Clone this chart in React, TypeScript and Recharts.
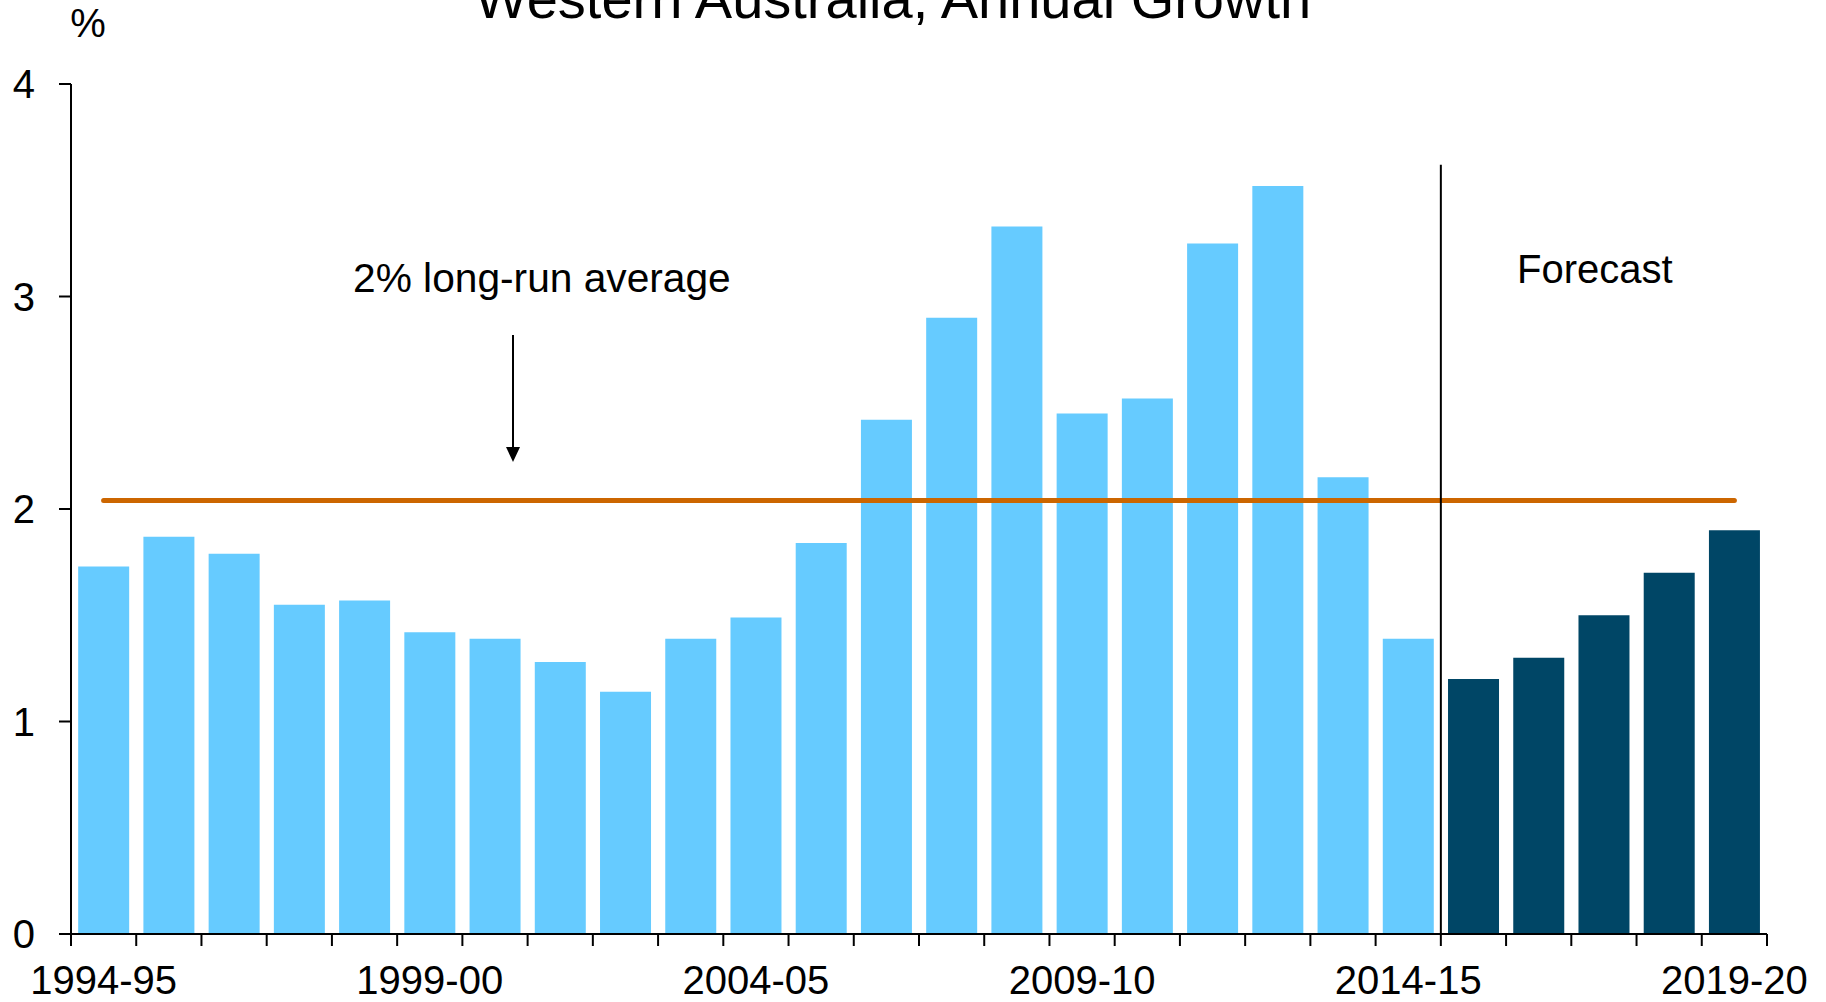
import { Bar, BarChart, Cell, ReferenceLine, XAxis, YAxis } from "recharts";

const years = [
  "1994-95", "1995-96", "1996-97", "1997-98", "1998-99", "1999-00", "2000-01",
  "2001-02", "2002-03", "2003-04", "2004-05", "2005-06", "2006-07", "2007-08",
  "2008-09", "2009-10", "2010-11", "2011-12", "2012-13", "2013-14", "2014-15",
  "2015-16", "2016-17", "2017-18", "2018-19", "2019-20",
];

// actual outcomes up to 2014-15, forecasts after that
const actualGrowth = [
  1.73, 1.87, 1.79, 1.55, 1.57, 1.42, 1.39, 1.28, 1.14, 1.39, 1.49,
  1.84, 2.42, 2.9, 3.33, 2.45, 2.52, 3.25, 3.52, 2.15, 1.39,
];
const forecastGrowth = [1.2, 1.3, 1.5, 1.7, 1.9];

const longRunAverage = 2.04;
const forecastDividerTop = 3.62;
const yTicks = [0, 1, 2, 3, 4];
const labelledYears = ["1994-95", "1999-00", "2004-05", "2009-10", "2014-15", "2019-20"];

const WIDTH = 1826;
const HEIGHT = 1002;
const margin = { top: 84, right: 59, bottom: 0, left: 0 };
const yAxisWidth = 71;
const xAxisHeight = 68;
const font = "'Liberation Sans', Arial, Helvetica, sans-serif";

const data = years.map((year, i) => ({
  year,
  growth: i < actualGrowth.length ? actualGrowth[i] : forecastGrowth[i - actualGrowth.length],
  isForecast: i >= actualGrowth.length,
}));

const bandHalf = (WIDTH - margin.left - margin.right - yAxisWidth) / years.length / 2;

function YearTick(props: any) {
  const { x, y, payload, index } = props;
  const isLast = index === years.length - 1;
  return (
    <g>
      <line x1={x - bandHalf} x2={x - bandHalf} y1={y} y2={y + 12} stroke="#000" strokeWidth={2} />
      {isLast ? (
        <line x1={x + bandHalf} x2={x + bandHalf} y1={y} y2={y + 12} stroke="#000" strokeWidth={2} />
      ) : null}
      {labelledYears.includes(payload.value) ? (
        <text
          x={x}
          y={y + 32}
          dy="0.71em"
          textAnchor="middle"
          fontSize={40}
          fill="#000"
          fontFamily={font}
        >
          {payload.value}
        </text>
      ) : null}
    </g>
  );
}

export default function App() {
  return (
    <div style={{ position: "absolute", left: 0, top: 0, width: WIDTH, height: HEIGHT, background: "#fff" }}>
      <BarChart width={WIDTH} height={HEIGHT} data={data} margin={margin} barCategoryGap="11%">
        <XAxis
          dataKey="year"
          height={xAxisHeight}
          interval={0}
          tickSize={0}
          tickMargin={0}
          tickLine={false}
          axisLine={{ stroke: "#000", strokeWidth: 2 }}
          tick={<YearTick />}
        />
        <YAxis
          width={yAxisWidth}
          domain={[0, 4]}
          ticks={yTicks}
          tickSize={12}
          tickMargin={24}
          axisLine={{ stroke: "#000", strokeWidth: 2 }}
          tickLine={{ stroke: "#000", strokeWidth: 2 }}
          tick={{ fill: "#000", fontSize: 40, fontFamily: font }}
        />
        <Bar dataKey="growth" isAnimationActive={false}>
          {data.map((d) => (
            <Cell key={d.year} fill={d.isForecast ? "#004666" : "#66CBFF"} />
          ))}
        </Bar>
        <ReferenceLine
          segment={[
            { x: years[0], y: longRunAverage },
            { x: years[years.length - 1], y: longRunAverage },
          ]}
          stroke="#CC6600"
          strokeWidth={5}
          strokeLinecap="round"
        />
        <ReferenceLine
          segment={[
            { x: years[actualGrowth.length - 1], y: 0 },
            { x: years[actualGrowth.length - 1], y: forecastDividerTop },
          ]}
          position="end"
          stroke="#000"
          strokeWidth={2}
        />
      </BarChart>
      <svg
        width={WIDTH}
        height={HEIGHT}
        style={{ position: "absolute", left: 0, top: 0, pointerEvents: "none" }}
        fontFamily={font}
      >
        <text x={893} y={18} textAnchor="middle" fontSize={56} fill="#000">
          Western Australia, Annual Growth
        </text>
        <text x={88} y={37} textAnchor="middle" fontSize={40} fill="#000">
          %
        </text>
        <text x={353} y={292} fontSize={40.7} fill="#000">
          2% long-run average
        </text>
        <line x1={513} x2={513} y1={335} y2={449} stroke="#000" strokeWidth={2} />
        <polygon points="506,447 520,447 513,462" fill="#000" />
        <text x={1517} y={283} fontSize={40} fill="#000">
          Forecast
        </text>
      </svg>
    </div>
  );
}
